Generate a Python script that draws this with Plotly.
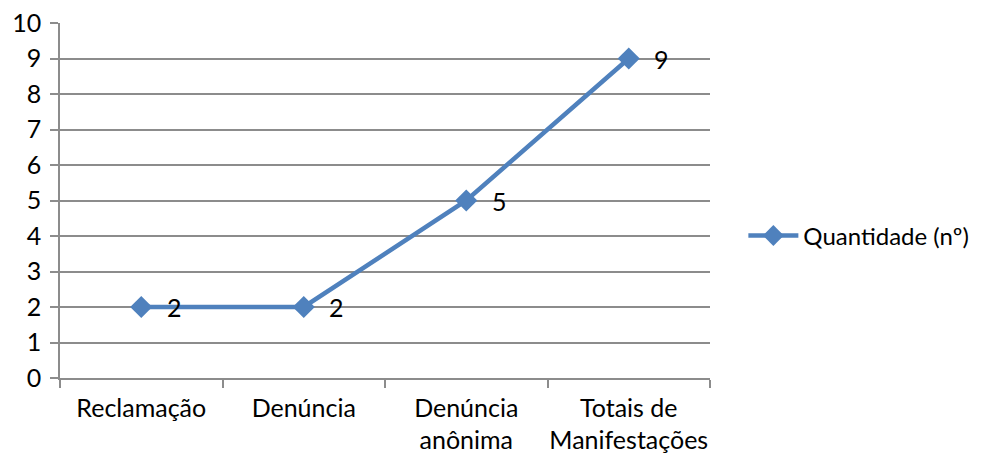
import plotly.graph_objects as go

categories = ["Reclamação", "Denúncia", "Denúncia<br>anônima", "Totais de<br>Manifestações"]
values = [2, 2, 5, 9]
series_name = "Quantidade (nº)"
y_ticks = list(range(0, 11))

FONT = "Lato"
FS = 25
BLUE = "#4F81BD"
GRID = "#8C8C8C"

fig = go.Figure()
fig.add_trace(go.Scatter(
    x=categories, y=values, name=series_name, mode="lines+markers",
    line=dict(color=BLUE, width=4.5),
    marker=dict(symbol="diamond", size=17, color=BLUE),
))
for c, v in zip(categories, values):
    fig.add_annotation(x=c, y=v, text=str(v), showarrow=False, xshift=33,
                       font=dict(family=FONT, size=FS, color="black"))

fig.update_layout(
    width=974, height=446,
    margin=dict(l=52, r=272, t=15, b=76, autoexpand=False),
    paper_bgcolor="white", plot_bgcolor="white",
    font=dict(family=FONT, size=FS, color="black"),
    showlegend=True,
    legend=dict(x=0.755, y=0.489, xref="container", yref="container",
                xanchor="left", yanchor="middle",
                font=dict(family=FONT, size=24), itemwidth=50,
                bgcolor="rgba(0,0,0,0)"),
)
fig.update_xaxes(
    type="category", range=[-0.5, 3.5], tickson="boundaries", tickangle=0,
    showline=True, linecolor=GRID, linewidth=1.5,
    ticks="outside", ticklen=8, tickcolor=GRID, tickwidth=1.5,
    showgrid=False, zeroline=False, ticklabelstandoff=7, automargin=False,
    ticklabeloverflow="allow",
)
fig.update_yaxes(
    range=[0, 10], tickvals=y_ticks, showline=True, linecolor=GRID, linewidth=1.5,
    ticks="outside", ticklen=8, tickcolor=GRID, tickwidth=1.5,
    showgrid=True, gridcolor=GRID, gridwidth=1.5, zeroline=False,
    ticklabelstandoff=4, automargin=False, ticklabeloverflow="allow",
)
fig.write_html("out.html")
